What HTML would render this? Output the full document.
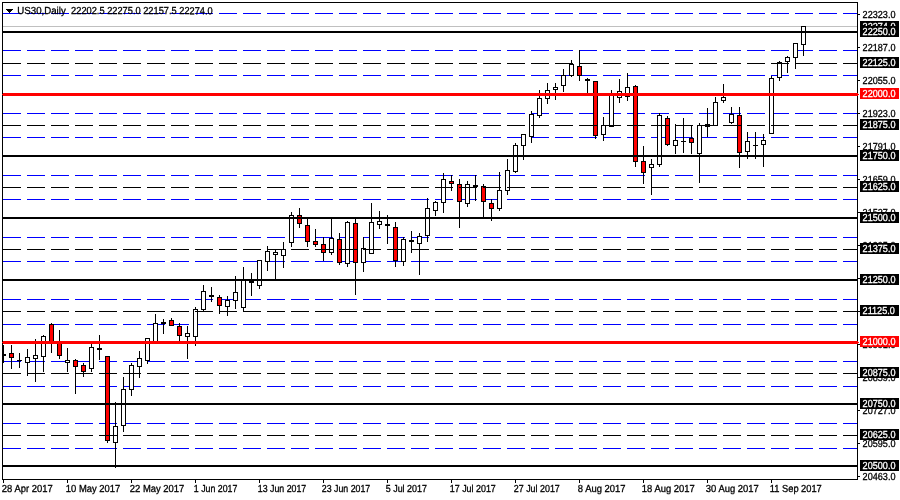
<!DOCTYPE html><html><head><meta charset="utf-8"><title>US30 Daily</title>
<style>html,body{margin:0;padding:0;background:#fff}svg{display:block}text{stroke:#000;stroke-width:0.3px;font-family:"Liberation Sans",Arial,sans-serif;font-size:10.2px}text.w{fill:#fff;stroke:#fff}</style></head><body>
<svg width="900" height="500" viewBox="0 0 900 500">
<rect width="900" height="500" fill="#fff"/>
<g shape-rendering="crispEdges">
<path d="M3 13h18M27 13h18M51 13h18M75 13h18M99 13h18M123 13h18M147 13h18M171 13h18M195 13h18M219 13h18M243 13h18M267 13h18M291 13h18M315 13h18M339 13h18M363 13h18M387 13h18M411 13h18M435 13h18M459 13h18M483 13h18M507 13h18M531 13h18M555 13h18M579 13h18M603 13h18M627 13h18M651 13h18M675 13h18M699 13h18M723 13h18M747 13h18M771 13h18M795 13h18M819 13h18M843 13h14" stroke="#0000ff" stroke-width="1" fill="none" transform="translate(0,0.5)"/>
<path d="M3 50h18M27 50h18M51 50h18M75 50h18M99 50h18M123 50h18M147 50h18M171 50h18M195 50h18M219 50h18M243 50h18M267 50h18M291 50h18M315 50h18M339 50h18M363 50h18M387 50h18M411 50h18M435 50h18M459 50h18M483 50h18M507 50h18M531 50h18M555 50h18M579 50h18M603 50h18M627 50h18M651 50h18M675 50h18M699 50h18M723 50h18M747 50h18M771 50h18M795 50h18M819 50h18M843 50h14" stroke="#0000ff" stroke-width="1" fill="none" transform="translate(0,0.5)"/>
<path d="M3 75h18M27 75h18M51 75h18M75 75h18M99 75h18M123 75h18M147 75h18M171 75h18M195 75h18M219 75h18M243 75h18M267 75h18M291 75h18M315 75h18M339 75h18M363 75h18M387 75h18M411 75h18M435 75h18M459 75h18M483 75h18M507 75h18M531 75h18M555 75h18M579 75h18M603 75h18M627 75h18M651 75h18M675 75h18M699 75h18M723 75h18M747 75h18M771 75h18M795 75h18M819 75h18M843 75h14" stroke="#0000ff" stroke-width="1" fill="none" transform="translate(0,0.5)"/>
<path d="M3 113h18M27 113h18M51 113h18M75 113h18M99 113h18M123 113h18M147 113h18M171 113h18M195 113h18M219 113h18M243 113h18M267 113h18M291 113h18M315 113h18M339 113h18M363 113h18M387 113h18M411 113h18M435 113h18M459 113h18M483 113h18M507 113h18M531 113h18M555 113h18M579 113h18M603 113h18M627 113h18M651 113h18M675 113h18M699 113h18M723 113h18M747 113h18M771 113h18M795 113h18M819 113h18M843 113h14" stroke="#0000ff" stroke-width="1" fill="none" transform="translate(0,0.5)"/>
<path d="M3 137h18M27 137h18M51 137h18M75 137h18M99 137h18M123 137h18M147 137h18M171 137h18M195 137h18M219 137h18M243 137h18M267 137h18M291 137h18M315 137h18M339 137h18M363 137h18M387 137h18M411 137h18M435 137h18M459 137h18M483 137h18M507 137h18M531 137h18M555 137h18M579 137h18M603 137h18M627 137h18M651 137h18M675 137h18M699 137h18M723 137h18M747 137h18M771 137h18M795 137h18M819 137h18M843 137h14" stroke="#0000ff" stroke-width="1" fill="none" transform="translate(0,0.5)"/>
<path d="M3 175h18M27 175h18M51 175h18M75 175h18M99 175h18M123 175h18M147 175h18M171 175h18M195 175h18M219 175h18M243 175h18M267 175h18M291 175h18M315 175h18M339 175h18M363 175h18M387 175h18M411 175h18M435 175h18M459 175h18M483 175h18M507 175h18M531 175h18M555 175h18M579 175h18M603 175h18M627 175h18M651 175h18M675 175h18M699 175h18M723 175h18M747 175h18M771 175h18M795 175h18M819 175h18M843 175h14" stroke="#0000ff" stroke-width="1" fill="none" transform="translate(0,0.5)"/>
<path d="M3 199h18M27 199h18M51 199h18M75 199h18M99 199h18M123 199h18M147 199h18M171 199h18M195 199h18M219 199h18M243 199h18M267 199h18M291 199h18M315 199h18M339 199h18M363 199h18M387 199h18M411 199h18M435 199h18M459 199h18M483 199h18M507 199h18M531 199h18M555 199h18M579 199h18M603 199h18M627 199h18M651 199h18M675 199h18M699 199h18M723 199h18M747 199h18M771 199h18M795 199h18M819 199h18M843 199h14" stroke="#0000ff" stroke-width="1" fill="none" transform="translate(0,0.5)"/>
<path d="M3 237h18M27 237h18M51 237h18M75 237h18M99 237h18M123 237h18M147 237h18M171 237h18M195 237h18M219 237h18M243 237h18M267 237h18M291 237h18M315 237h18M339 237h18M363 237h18M387 237h18M411 237h18M435 237h18M459 237h18M483 237h18M507 237h18M531 237h18M555 237h18M579 237h18M603 237h18M627 237h18M651 237h18M675 237h18M699 237h18M723 237h18M747 237h18M771 237h18M795 237h18M819 237h18M843 237h14" stroke="#0000ff" stroke-width="1" fill="none" transform="translate(0,0.5)"/>
<path d="M3 261h18M27 261h18M51 261h18M75 261h18M99 261h18M123 261h18M147 261h18M171 261h18M195 261h18M219 261h18M243 261h18M267 261h18M291 261h18M315 261h18M339 261h18M363 261h18M387 261h18M411 261h18M435 261h18M459 261h18M483 261h18M507 261h18M531 261h18M555 261h18M579 261h18M603 261h18M627 261h18M651 261h18M675 261h18M699 261h18M723 261h18M747 261h18M771 261h18M795 261h18M819 261h18M843 261h14" stroke="#0000ff" stroke-width="1" fill="none" transform="translate(0,0.5)"/>
<path d="M3 299h18M27 299h18M51 299h18M75 299h18M99 299h18M123 299h18M147 299h18M171 299h18M195 299h18M219 299h18M243 299h18M267 299h18M291 299h18M315 299h18M339 299h18M363 299h18M387 299h18M411 299h18M435 299h18M459 299h18M483 299h18M507 299h18M531 299h18M555 299h18M579 299h18M603 299h18M627 299h18M651 299h18M675 299h18M699 299h18M723 299h18M747 299h18M771 299h18M795 299h18M819 299h18M843 299h14" stroke="#0000ff" stroke-width="1" fill="none" transform="translate(0,0.5)"/>
<path d="M3 324h18M27 324h18M51 324h18M75 324h18M99 324h18M123 324h18M147 324h18M171 324h18M195 324h18M219 324h18M243 324h18M267 324h18M291 324h18M315 324h18M339 324h18M363 324h18M387 324h18M411 324h18M435 324h18M459 324h18M483 324h18M507 324h18M531 324h18M555 324h18M579 324h18M603 324h18M627 324h18M651 324h18M675 324h18M699 324h18M723 324h18M747 324h18M771 324h18M795 324h18M819 324h18M843 324h14" stroke="#0000ff" stroke-width="1" fill="none" transform="translate(0,0.5)"/>
<path d="M3 361h18M27 361h18M51 361h18M75 361h18M99 361h18M123 361h18M147 361h18M171 361h18M195 361h18M219 361h18M243 361h18M267 361h18M291 361h18M315 361h18M339 361h18M363 361h18M387 361h18M411 361h18M435 361h18M459 361h18M483 361h18M507 361h18M531 361h18M555 361h18M579 361h18M603 361h18M627 361h18M651 361h18M675 361h18M699 361h18M723 361h18M747 361h18M771 361h18M795 361h18M819 361h18M843 361h14" stroke="#0000ff" stroke-width="1" fill="none" transform="translate(0,0.5)"/>
<path d="M3 386h18M27 386h18M51 386h18M75 386h18M99 386h18M123 386h18M147 386h18M171 386h18M195 386h18M219 386h18M243 386h18M267 386h18M291 386h18M315 386h18M339 386h18M363 386h18M387 386h18M411 386h18M435 386h18M459 386h18M483 386h18M507 386h18M531 386h18M555 386h18M579 386h18M603 386h18M627 386h18M651 386h18M675 386h18M699 386h18M723 386h18M747 386h18M771 386h18M795 386h18M819 386h18M843 386h14" stroke="#0000ff" stroke-width="1" fill="none" transform="translate(0,0.5)"/>
<path d="M3 423h18M27 423h18M51 423h18M75 423h18M99 423h18M123 423h18M147 423h18M171 423h18M195 423h18M219 423h18M243 423h18M267 423h18M291 423h18M315 423h18M339 423h18M363 423h18M387 423h18M411 423h18M435 423h18M459 423h18M483 423h18M507 423h18M531 423h18M555 423h18M579 423h18M603 423h18M627 423h18M651 423h18M675 423h18M699 423h18M723 423h18M747 423h18M771 423h18M795 423h18M819 423h18M843 423h14" stroke="#0000ff" stroke-width="1" fill="none" transform="translate(0,0.5)"/>
<path d="M3 448h18M27 448h18M51 448h18M75 448h18M99 448h18M123 448h18M147 448h18M171 448h18M195 448h18M219 448h18M243 448h18M267 448h18M291 448h18M315 448h18M339 448h18M363 448h18M387 448h18M411 448h18M435 448h18M459 448h18M483 448h18M507 448h18M531 448h18M555 448h18M579 448h18M603 448h18M627 448h18M651 448h18M675 448h18M699 448h18M723 448h18M747 448h18M771 448h18M795 448h18M819 448h18M843 448h14" stroke="#0000ff" stroke-width="1" fill="none" transform="translate(0,0.5)"/>
<rect x="3" y="26" width="854" height="1" fill="#c0c0c0"/>
<g>
<rect x="3" y="345" width="1" height="18" fill="#000"/>
<rect x="3" y="354" width="3" height="2" fill="#000"/>
<rect x="11" y="345" width="1" height="24" fill="#000"/>
<rect x="9" y="353" width="5" height="5" fill="#000"/>
<rect x="10" y="354" width="3" height="3" fill="#ff0000"/>
<rect x="19" y="353" width="1" height="15" fill="#000"/>
<rect x="17" y="360" width="5" height="1" fill="#000"/>
<rect x="27" y="349" width="1" height="27" fill="#000"/>
<rect x="25" y="357" width="5" height="6" fill="#000"/>
<rect x="26" y="358" width="3" height="4" fill="#fff"/>
<rect x="35" y="339" width="1" height="43" fill="#000"/>
<rect x="33" y="355" width="5" height="4" fill="#000"/>
<rect x="34" y="356" width="3" height="2" fill="#fff"/>
<rect x="43" y="335" width="1" height="37" fill="#000"/>
<rect x="41" y="336" width="5" height="21" fill="#000"/>
<rect x="42" y="337" width="3" height="19" fill="#fff"/>
<rect x="51" y="323" width="1" height="30" fill="#000"/>
<rect x="49" y="324" width="5" height="19" fill="#000"/>
<rect x="50" y="325" width="3" height="17" fill="#ff0000"/>
<rect x="59" y="330" width="1" height="29" fill="#000"/>
<rect x="57" y="342" width="5" height="14" fill="#000"/>
<rect x="58" y="343" width="3" height="12" fill="#ff0000"/>
<rect x="67" y="348" width="1" height="24" fill="#000"/>
<rect x="65" y="360" width="5" height="3" fill="#000"/>
<rect x="66" y="361" width="3" height="1" fill="#fff"/>
<rect x="75" y="359" width="1" height="35" fill="#000"/>
<rect x="73" y="360" width="5" height="7" fill="#000"/>
<rect x="74" y="361" width="3" height="5" fill="#ff0000"/>
<rect x="83" y="363" width="1" height="14" fill="#000"/>
<rect x="81" y="365" width="5" height="7" fill="#000"/>
<rect x="82" y="366" width="3" height="5" fill="#ff0000"/>
<rect x="91" y="344" width="1" height="28" fill="#000"/>
<rect x="89" y="347" width="5" height="22" fill="#000"/>
<rect x="90" y="348" width="3" height="20" fill="#fff"/>
<rect x="99" y="335" width="1" height="25" fill="#000"/>
<rect x="97" y="348" width="5" height="2" fill="#000"/>
<rect x="107" y="356" width="1" height="87" fill="#000"/>
<rect x="105" y="356" width="5" height="85" fill="#000"/>
<rect x="106" y="357" width="3" height="83" fill="#ff0000"/>
<rect x="115" y="402" width="1" height="66" fill="#000"/>
<rect x="113" y="426" width="5" height="17" fill="#000"/>
<rect x="114" y="427" width="3" height="15" fill="#fff"/>
<rect x="123" y="377" width="1" height="55" fill="#000"/>
<rect x="121" y="389" width="5" height="37" fill="#000"/>
<rect x="122" y="390" width="3" height="35" fill="#fff"/>
<rect x="131" y="363" width="1" height="33" fill="#000"/>
<rect x="129" y="365" width="5" height="25" fill="#000"/>
<rect x="130" y="366" width="3" height="23" fill="#fff"/>
<rect x="139" y="351" width="1" height="27" fill="#000"/>
<rect x="137" y="358" width="5" height="9" fill="#000"/>
<rect x="138" y="359" width="3" height="7" fill="#fff"/>
<rect x="147" y="338" width="1" height="26" fill="#000"/>
<rect x="145" y="338" width="5" height="23" fill="#000"/>
<rect x="146" y="339" width="3" height="21" fill="#fff"/>
<rect x="155" y="314" width="1" height="29" fill="#000"/>
<rect x="153" y="323" width="5" height="20" fill="#000"/>
<rect x="154" y="324" width="3" height="18" fill="#fff"/>
<rect x="163" y="319" width="1" height="15" fill="#000"/>
<rect x="161" y="322" width="5" height="2" fill="#000"/>
<rect x="171" y="318" width="1" height="8" fill="#000"/>
<rect x="169" y="320" width="5" height="6" fill="#000"/>
<rect x="170" y="321" width="3" height="4" fill="#ff0000"/>
<rect x="179" y="323" width="1" height="20" fill="#000"/>
<rect x="177" y="326" width="5" height="10" fill="#000"/>
<rect x="178" y="327" width="3" height="8" fill="#ff0000"/>
<rect x="187" y="326" width="1" height="33" fill="#000"/>
<rect x="185" y="333" width="5" height="4" fill="#000"/>
<rect x="186" y="334" width="3" height="2" fill="#fff"/>
<rect x="195" y="307" width="1" height="39" fill="#000"/>
<rect x="193" y="309" width="5" height="28" fill="#000"/>
<rect x="194" y="310" width="3" height="26" fill="#fff"/>
<rect x="203" y="285" width="1" height="26" fill="#000"/>
<rect x="201" y="291" width="5" height="19" fill="#000"/>
<rect x="202" y="292" width="3" height="17" fill="#fff"/>
<rect x="211" y="287" width="1" height="15" fill="#000"/>
<rect x="209" y="295" width="5" height="2" fill="#000"/>
<rect x="219" y="295" width="1" height="19" fill="#000"/>
<rect x="217" y="297" width="5" height="9" fill="#000"/>
<rect x="218" y="298" width="3" height="7" fill="#ff0000"/>
<rect x="227" y="296" width="1" height="20" fill="#000"/>
<rect x="225" y="300" width="5" height="7" fill="#000"/>
<rect x="226" y="301" width="3" height="5" fill="#fff"/>
<rect x="235" y="276" width="1" height="33" fill="#000"/>
<rect x="233" y="292" width="5" height="9" fill="#000"/>
<rect x="234" y="293" width="3" height="7" fill="#fff"/>
<rect x="243" y="267" width="1" height="44" fill="#000"/>
<rect x="241" y="280" width="5" height="28" fill="#000"/>
<rect x="242" y="281" width="3" height="26" fill="#fff"/>
<rect x="251" y="273" width="1" height="23" fill="#000"/>
<rect x="249" y="281" width="5" height="2" fill="#000"/>
<rect x="259" y="260" width="1" height="29" fill="#000"/>
<rect x="257" y="260" width="5" height="26" fill="#000"/>
<rect x="258" y="261" width="3" height="24" fill="#fff"/>
<rect x="267" y="246" width="1" height="25" fill="#000"/>
<rect x="265" y="251" width="5" height="11" fill="#000"/>
<rect x="266" y="252" width="3" height="9" fill="#fff"/>
<rect x="275" y="249" width="1" height="30" fill="#000"/>
<rect x="273" y="252" width="5" height="3" fill="#000"/>
<rect x="274" y="253" width="3" height="1" fill="#fff"/>
<rect x="283" y="242" width="1" height="26" fill="#000"/>
<rect x="281" y="249" width="5" height="7" fill="#000"/>
<rect x="282" y="250" width="3" height="5" fill="#fff"/>
<rect x="291" y="212" width="1" height="35" fill="#000"/>
<rect x="289" y="215" width="5" height="28" fill="#000"/>
<rect x="290" y="216" width="3" height="26" fill="#fff"/>
<rect x="299" y="208" width="1" height="20" fill="#000"/>
<rect x="297" y="215" width="5" height="9" fill="#000"/>
<rect x="298" y="216" width="3" height="7" fill="#ff0000"/>
<rect x="307" y="219" width="1" height="28" fill="#000"/>
<rect x="305" y="225" width="5" height="17" fill="#000"/>
<rect x="306" y="226" width="3" height="15" fill="#ff0000"/>
<rect x="315" y="229" width="1" height="18" fill="#000"/>
<rect x="313" y="241" width="5" height="4" fill="#000"/>
<rect x="314" y="242" width="3" height="2" fill="#ff0000"/>
<rect x="323" y="237" width="1" height="24" fill="#000"/>
<rect x="321" y="244" width="5" height="9" fill="#000"/>
<rect x="322" y="245" width="3" height="7" fill="#ff0000"/>
<rect x="331" y="219" width="1" height="36" fill="#000"/>
<rect x="329" y="238" width="5" height="15" fill="#000"/>
<rect x="330" y="239" width="3" height="13" fill="#fff"/>
<rect x="339" y="233" width="1" height="32" fill="#000"/>
<rect x="337" y="239" width="5" height="24" fill="#000"/>
<rect x="338" y="240" width="3" height="22" fill="#ff0000"/>
<rect x="347" y="221" width="1" height="46" fill="#000"/>
<rect x="345" y="222" width="5" height="42" fill="#000"/>
<rect x="346" y="223" width="3" height="40" fill="#fff"/>
<rect x="355" y="219" width="1" height="76" fill="#000"/>
<rect x="353" y="223" width="5" height="40" fill="#000"/>
<rect x="354" y="224" width="3" height="38" fill="#ff0000"/>
<rect x="363" y="237" width="1" height="35" fill="#000"/>
<rect x="361" y="248" width="5" height="15" fill="#000"/>
<rect x="362" y="249" width="3" height="13" fill="#fff"/>
<rect x="371" y="203" width="1" height="51" fill="#000"/>
<rect x="369" y="222" width="5" height="32" fill="#000"/>
<rect x="370" y="223" width="3" height="30" fill="#fff"/>
<rect x="379" y="211" width="1" height="18" fill="#000"/>
<rect x="377" y="221" width="5" height="4" fill="#000"/>
<rect x="378" y="222" width="3" height="2" fill="#fff"/>
<rect x="387" y="215" width="1" height="29" fill="#000"/>
<rect x="385" y="224" width="5" height="2" fill="#000"/>
<rect x="395" y="222" width="1" height="45" fill="#000"/>
<rect x="393" y="227" width="5" height="34" fill="#000"/>
<rect x="394" y="228" width="3" height="32" fill="#ff0000"/>
<rect x="403" y="237" width="1" height="29" fill="#000"/>
<rect x="401" y="239" width="5" height="23" fill="#000"/>
<rect x="402" y="240" width="3" height="21" fill="#fff"/>
<rect x="411" y="231" width="1" height="22" fill="#000"/>
<rect x="409" y="240" width="5" height="2" fill="#000"/>
<rect x="419" y="233" width="1" height="42" fill="#000"/>
<rect x="417" y="236" width="5" height="8" fill="#000"/>
<rect x="418" y="237" width="3" height="6" fill="#fff"/>
<rect x="427" y="198" width="1" height="44" fill="#000"/>
<rect x="425" y="208" width="5" height="28" fill="#000"/>
<rect x="426" y="209" width="3" height="26" fill="#fff"/>
<rect x="435" y="201" width="1" height="15" fill="#000"/>
<rect x="433" y="202" width="5" height="9" fill="#000"/>
<rect x="434" y="203" width="3" height="7" fill="#fff"/>
<rect x="443" y="173" width="1" height="40" fill="#000"/>
<rect x="441" y="179" width="5" height="24" fill="#000"/>
<rect x="442" y="180" width="3" height="22" fill="#fff"/>
<rect x="451" y="175" width="1" height="16" fill="#000"/>
<rect x="449" y="181" width="5" height="3" fill="#000"/>
<rect x="450" y="182" width="3" height="1" fill="#ff0000"/>
<rect x="459" y="179" width="1" height="49" fill="#000"/>
<rect x="457" y="184" width="5" height="18" fill="#000"/>
<rect x="458" y="185" width="3" height="16" fill="#ff0000"/>
<rect x="467" y="181" width="1" height="26" fill="#000"/>
<rect x="465" y="184" width="5" height="20" fill="#000"/>
<rect x="466" y="185" width="3" height="18" fill="#fff"/>
<rect x="475" y="175" width="1" height="26" fill="#000"/>
<rect x="473" y="185" width="5" height="2" fill="#000"/>
<rect x="483" y="184" width="1" height="33" fill="#000"/>
<rect x="481" y="186" width="5" height="16" fill="#000"/>
<rect x="482" y="187" width="3" height="14" fill="#ff0000"/>
<rect x="491" y="199" width="1" height="22" fill="#000"/>
<rect x="489" y="203" width="5" height="6" fill="#000"/>
<rect x="490" y="204" width="3" height="4" fill="#ff0000"/>
<rect x="499" y="172" width="1" height="39" fill="#000"/>
<rect x="497" y="190" width="5" height="19" fill="#000"/>
<rect x="498" y="191" width="3" height="17" fill="#fff"/>
<rect x="507" y="159" width="1" height="36" fill="#000"/>
<rect x="505" y="170" width="5" height="21" fill="#000"/>
<rect x="506" y="171" width="3" height="19" fill="#fff"/>
<rect x="515" y="143" width="1" height="30" fill="#000"/>
<rect x="513" y="145" width="5" height="27" fill="#000"/>
<rect x="514" y="146" width="3" height="25" fill="#fff"/>
<rect x="523" y="134" width="1" height="26" fill="#000"/>
<rect x="521" y="134" width="5" height="12" fill="#000"/>
<rect x="522" y="135" width="3" height="10" fill="#fff"/>
<rect x="531" y="111" width="1" height="32" fill="#000"/>
<rect x="529" y="114" width="5" height="23" fill="#000"/>
<rect x="530" y="115" width="3" height="21" fill="#fff"/>
<rect x="539" y="90" width="1" height="28" fill="#000"/>
<rect x="537" y="98" width="5" height="18" fill="#000"/>
<rect x="538" y="99" width="3" height="16" fill="#fff"/>
<rect x="547" y="83" width="1" height="21" fill="#000"/>
<rect x="545" y="90" width="5" height="9" fill="#000"/>
<rect x="546" y="91" width="3" height="7" fill="#fff"/>
<rect x="555" y="83" width="1" height="17" fill="#000"/>
<rect x="553" y="87" width="5" height="3" fill="#000"/>
<rect x="554" y="88" width="3" height="1" fill="#fff"/>
<rect x="563" y="69" width="1" height="23" fill="#000"/>
<rect x="561" y="75" width="5" height="11" fill="#000"/>
<rect x="562" y="76" width="3" height="9" fill="#fff"/>
<rect x="571" y="60" width="1" height="17" fill="#000"/>
<rect x="569" y="64" width="5" height="12" fill="#000"/>
<rect x="570" y="65" width="3" height="10" fill="#fff"/>
<rect x="579" y="50" width="1" height="31" fill="#000"/>
<rect x="577" y="66" width="5" height="10" fill="#000"/>
<rect x="578" y="67" width="3" height="8" fill="#ff0000"/>
<rect x="587" y="78" width="1" height="16" fill="#000"/>
<rect x="585" y="79" width="5" height="2" fill="#000"/>
<rect x="595" y="81" width="1" height="58" fill="#000"/>
<rect x="593" y="81" width="5" height="55" fill="#000"/>
<rect x="594" y="82" width="3" height="53" fill="#ff0000"/>
<rect x="603" y="117" width="1" height="24" fill="#000"/>
<rect x="601" y="125" width="5" height="10" fill="#000"/>
<rect x="602" y="126" width="3" height="8" fill="#fff"/>
<rect x="611" y="90" width="1" height="37" fill="#000"/>
<rect x="609" y="94" width="5" height="33" fill="#000"/>
<rect x="610" y="95" width="3" height="31" fill="#fff"/>
<rect x="619" y="79" width="1" height="24" fill="#000"/>
<rect x="617" y="91" width="5" height="7" fill="#000"/>
<rect x="618" y="92" width="3" height="5" fill="#fff"/>
<rect x="627" y="73" width="1" height="28" fill="#000"/>
<rect x="625" y="87" width="5" height="10" fill="#000"/>
<rect x="626" y="88" width="3" height="8" fill="#fff"/>
<rect x="635" y="85" width="1" height="82" fill="#000"/>
<rect x="633" y="86" width="5" height="76" fill="#000"/>
<rect x="634" y="87" width="3" height="74" fill="#ff0000"/>
<rect x="643" y="146" width="1" height="38" fill="#000"/>
<rect x="641" y="161" width="5" height="12" fill="#000"/>
<rect x="642" y="162" width="3" height="10" fill="#ff0000"/>
<rect x="651" y="159" width="1" height="36" fill="#000"/>
<rect x="649" y="164" width="5" height="4" fill="#000"/>
<rect x="650" y="165" width="3" height="2" fill="#fff"/>
<rect x="659" y="113" width="1" height="54" fill="#000"/>
<rect x="657" y="115" width="5" height="50" fill="#000"/>
<rect x="658" y="116" width="3" height="48" fill="#fff"/>
<rect x="667" y="116" width="1" height="30" fill="#000"/>
<rect x="665" y="118" width="5" height="27" fill="#000"/>
<rect x="666" y="119" width="3" height="25" fill="#ff0000"/>
<rect x="675" y="124" width="1" height="30" fill="#000"/>
<rect x="673" y="140" width="5" height="6" fill="#000"/>
<rect x="674" y="141" width="3" height="4" fill="#fff"/>
<rect x="683" y="118" width="1" height="35" fill="#000"/>
<rect x="681" y="141" width="5" height="1" fill="#000"/>
<rect x="691" y="125" width="1" height="29" fill="#000"/>
<rect x="689" y="138" width="5" height="5" fill="#000"/>
<rect x="690" y="139" width="3" height="3" fill="#ff0000"/>
<rect x="699" y="123" width="1" height="60" fill="#000"/>
<rect x="697" y="125" width="5" height="29" fill="#000"/>
<rect x="698" y="126" width="3" height="27" fill="#fff"/>
<rect x="707" y="108" width="1" height="29" fill="#000"/>
<rect x="705" y="124" width="5" height="3" fill="#000"/>
<rect x="715" y="97" width="1" height="29" fill="#000"/>
<rect x="713" y="102" width="5" height="24" fill="#000"/>
<rect x="714" y="103" width="3" height="22" fill="#fff"/>
<rect x="723" y="84" width="1" height="19" fill="#000"/>
<rect x="721" y="97" width="5" height="4" fill="#000"/>
<rect x="722" y="98" width="3" height="2" fill="#fff"/>
<rect x="731" y="107" width="1" height="17" fill="#000"/>
<rect x="729" y="114" width="5" height="9" fill="#000"/>
<rect x="730" y="115" width="3" height="7" fill="#fff"/>
<rect x="739" y="107" width="1" height="61" fill="#000"/>
<rect x="737" y="115" width="5" height="38" fill="#000"/>
<rect x="738" y="116" width="3" height="36" fill="#ff0000"/>
<rect x="747" y="132" width="1" height="27" fill="#000"/>
<rect x="745" y="141" width="5" height="11" fill="#000"/>
<rect x="746" y="142" width="3" height="9" fill="#fff"/>
<rect x="755" y="132" width="1" height="27" fill="#000"/>
<rect x="753" y="145" width="5" height="1" fill="#000"/>
<rect x="763" y="134" width="1" height="33" fill="#000"/>
<rect x="761" y="140" width="5" height="5" fill="#000"/>
<rect x="762" y="141" width="3" height="3" fill="#fff"/>
<rect x="771" y="76" width="1" height="58" fill="#000"/>
<rect x="769" y="78" width="5" height="56" fill="#000"/>
<rect x="770" y="79" width="3" height="54" fill="#fff"/>
<rect x="779" y="61" width="1" height="20" fill="#000"/>
<rect x="777" y="62" width="5" height="16" fill="#000"/>
<rect x="778" y="63" width="3" height="14" fill="#fff"/>
<rect x="787" y="56" width="1" height="17" fill="#000"/>
<rect x="785" y="57" width="5" height="5" fill="#000"/>
<rect x="786" y="58" width="3" height="3" fill="#fff"/>
<rect x="795" y="43" width="1" height="26" fill="#000"/>
<rect x="793" y="43" width="5" height="15" fill="#000"/>
<rect x="794" y="44" width="3" height="13" fill="#fff"/>
<rect x="803" y="26" width="1" height="30" fill="#000"/>
<rect x="801" y="26" width="5" height="19" fill="#000"/>
<rect x="802" y="27" width="3" height="17" fill="#fff"/>
</g>
<path d="M3 63h18M27 63h18M51 63h18M75 63h18M99 63h18M123 63h18M147 63h18M171 63h18M195 63h18M219 63h18M243 63h18M267 63h18M291 63h18M315 63h18M339 63h18M363 63h18M387 63h18M411 63h18M435 63h18M459 63h18M483 63h18M507 63h18M531 63h18M555 63h18M579 63h18M603 63h18M627 63h18M651 63h18M675 63h18M699 63h18M723 63h18M747 63h18M771 63h18M795 63h18M819 63h18M843 63h14" stroke="#000" stroke-width="1" fill="none" transform="translate(0,0.5)"/>
<path d="M3 125h18M27 125h18M51 125h18M75 125h18M99 125h18M123 125h18M147 125h18M171 125h18M195 125h18M219 125h18M243 125h18M267 125h18M291 125h18M315 125h18M339 125h18M363 125h18M387 125h18M411 125h18M435 125h18M459 125h18M483 125h18M507 125h18M531 125h18M555 125h18M579 125h18M603 125h18M627 125h18M651 125h18M675 125h18M699 125h18M723 125h18M747 125h18M771 125h18M795 125h18M819 125h18M843 125h14" stroke="#000" stroke-width="1" fill="none" transform="translate(0,0.5)"/>
<path d="M3 187h18M27 187h18M51 187h18M75 187h18M99 187h18M123 187h18M147 187h18M171 187h18M195 187h18M219 187h18M243 187h18M267 187h18M291 187h18M315 187h18M339 187h18M363 187h18M387 187h18M411 187h18M435 187h18M459 187h18M483 187h18M507 187h18M531 187h18M555 187h18M579 187h18M603 187h18M627 187h18M651 187h18M675 187h18M699 187h18M723 187h18M747 187h18M771 187h18M795 187h18M819 187h18M843 187h14" stroke="#000" stroke-width="1" fill="none" transform="translate(0,0.5)"/>
<path d="M3 249h18M27 249h18M51 249h18M75 249h18M99 249h18M123 249h18M147 249h18M171 249h18M195 249h18M219 249h18M243 249h18M267 249h18M291 249h18M315 249h18M339 249h18M363 249h18M387 249h18M411 249h18M435 249h18M459 249h18M483 249h18M507 249h18M531 249h18M555 249h18M579 249h18M603 249h18M627 249h18M651 249h18M675 249h18M699 249h18M723 249h18M747 249h18M771 249h18M795 249h18M819 249h18M843 249h14" stroke="#000" stroke-width="1" fill="none" transform="translate(0,0.5)"/>
<path d="M3 311h18M27 311h18M51 311h18M75 311h18M99 311h18M123 311h18M147 311h18M171 311h18M195 311h18M219 311h18M243 311h18M267 311h18M291 311h18M315 311h18M339 311h18M363 311h18M387 311h18M411 311h18M435 311h18M459 311h18M483 311h18M507 311h18M531 311h18M555 311h18M579 311h18M603 311h18M627 311h18M651 311h18M675 311h18M699 311h18M723 311h18M747 311h18M771 311h18M795 311h18M819 311h18M843 311h14" stroke="#000" stroke-width="1" fill="none" transform="translate(0,0.5)"/>
<path d="M3 373h18M27 373h18M51 373h18M75 373h18M99 373h18M123 373h18M147 373h18M171 373h18M195 373h18M219 373h18M243 373h18M267 373h18M291 373h18M315 373h18M339 373h18M363 373h18M387 373h18M411 373h18M435 373h18M459 373h18M483 373h18M507 373h18M531 373h18M555 373h18M579 373h18M603 373h18M627 373h18M651 373h18M675 373h18M699 373h18M723 373h18M747 373h18M771 373h18M795 373h18M819 373h18M843 373h14" stroke="#000" stroke-width="1" fill="none" transform="translate(0,0.5)"/>
<path d="M3 435h18M27 435h18M51 435h18M75 435h18M99 435h18M123 435h18M147 435h18M171 435h18M195 435h18M219 435h18M243 435h18M267 435h18M291 435h18M315 435h18M339 435h18M363 435h18M387 435h18M411 435h18M435 435h18M459 435h18M483 435h18M507 435h18M531 435h18M555 435h18M579 435h18M603 435h18M627 435h18M651 435h18M675 435h18M699 435h18M723 435h18M747 435h18M771 435h18M795 435h18M819 435h18M843 435h14" stroke="#000" stroke-width="1" fill="none" transform="translate(0,0.5)"/>
<rect x="3" y="31" width="854" height="2" fill="#000"/>
<rect x="3" y="155" width="854" height="2" fill="#000"/>
<rect x="3" y="217" width="854" height="2" fill="#000"/>
<rect x="3" y="279" width="854" height="2" fill="#000"/>
<rect x="3" y="403" width="854" height="2" fill="#000"/>
<rect x="3" y="465" width="854" height="2" fill="#000"/>
<path d="M2.5 2.5H857.5V479.5H2.5Z" fill="none" stroke="#000" stroke-width="1"/>
<rect x="3" y="93" width="855" height="3" fill="#ff0000"/>
<rect x="2" y="94" width="857" height="1" fill="#ff0000"/>
<rect x="3" y="341" width="855" height="3" fill="#ff0000"/>
<rect x="2" y="342" width="857" height="1" fill="#ff0000"/>
<rect x="3" y="480" width="1" height="3" fill="#000"/>
<rect x="67" y="480" width="1" height="3" fill="#000"/>
<rect x="131" y="480" width="1" height="3" fill="#000"/>
<rect x="195" y="480" width="1" height="3" fill="#000"/>
<rect x="259" y="480" width="1" height="3" fill="#000"/>
<rect x="323" y="480" width="1" height="3" fill="#000"/>
<rect x="387" y="480" width="1" height="3" fill="#000"/>
<rect x="451" y="480" width="1" height="3" fill="#000"/>
<rect x="515" y="480" width="1" height="3" fill="#000"/>
<rect x="579" y="480" width="1" height="3" fill="#000"/>
<rect x="643" y="480" width="1" height="3" fill="#000"/>
<rect x="707" y="480" width="1" height="3" fill="#000"/>
<rect x="771" y="480" width="1" height="3" fill="#000"/>
<rect x="858" y="14" width="2" height="1" fill="#000"/>
<rect x="858" y="47" width="2" height="1" fill="#000"/>
<rect x="858" y="80" width="2" height="1" fill="#000"/>
<rect x="858" y="113" width="2" height="1" fill="#000"/>
<rect x="858" y="146" width="2" height="1" fill="#000"/>
<rect x="858" y="179" width="2" height="1" fill="#000"/>
<rect x="858" y="212" width="2" height="1" fill="#000"/>
<rect x="858" y="245" width="2" height="1" fill="#000"/>
<rect x="858" y="278" width="2" height="1" fill="#000"/>
<rect x="858" y="311" width="2" height="1" fill="#000"/>
<rect x="858" y="344" width="2" height="1" fill="#000"/>
<rect x="858" y="377" width="2" height="1" fill="#000"/>
<rect x="858" y="410" width="2" height="1" fill="#000"/>
<rect x="858" y="443" width="2" height="1" fill="#000"/>
<rect x="858" y="476" width="2" height="1" fill="#000"/>
</g>
<path d="M6 9h7v1h-1v1h-1v1h-1v1h-1v-1h-1v-1h-1v-1h-1z" fill="#000" shape-rendering="crispEdges"/>
<text transform="matrix(0.95,0.001,0,1,17.3,14)">US30,Daily</text>
<text transform="matrix(0.909,0.001,0,1,71.1,14)">22202.5 22275.0 22157.5 22274.0</text>
<text transform="matrix(0.925,0.001,0,1,1.8,492)">28 Apr 2017</text>
<text transform="matrix(0.925,0.001,0,1,65.8,492)">10 May 2017</text>
<text transform="matrix(0.925,0.001,0,1,129.8,492)">22 May 2017</text>
<text transform="matrix(0.8649,0.001,0,1,193.8,492)">1 Jun 2017</text>
<text transform="matrix(0.8649,0.001,0,1,257.8,492)">13 Jun 2017</text>
<text transform="matrix(0.8649,0.001,0,1,321.8,492)">23 Jun 2017</text>
<text transform="matrix(0.8732,0.001,0,1,385.8,492)">5 Jul 2017</text>
<text transform="matrix(0.8732,0.001,0,1,449.8,492)">17 Jul 2017</text>
<text transform="matrix(0.8732,0.001,0,1,513.8,492)">27 Jul 2017</text>
<text transform="matrix(0.925,0.001,0,1,577.8,492)">8 Aug 2017</text>
<text transform="matrix(0.925,0.001,0,1,641.8,492)">18 Aug 2017</text>
<text transform="matrix(0.925,0.001,0,1,705.8,492)">30 Aug 2017</text>
<text transform="matrix(0.9111,0.001,0,1,769.8,492)">11 Sep 2017</text>
<text transform="matrix(0.8925,0.001,0,1,862.6,18)">22323.0</text>
<text transform="matrix(0.8925,0.001,0,1,862.6,51)">22187.0</text>
<text transform="matrix(0.8925,0.001,0,1,862.6,84)">22055.0</text>
<text transform="matrix(0.8925,0.001,0,1,862.6,117)">21923.0</text>
<text transform="matrix(0.8925,0.001,0,1,862.6,150)">21791.0</text>
<text transform="matrix(0.8925,0.001,0,1,862.6,183)">21659.0</text>
<text transform="matrix(0.8925,0.001,0,1,862.6,216)">21527.0</text>
<text transform="matrix(0.8925,0.001,0,1,862.6,249)">21395.0</text>
<text transform="matrix(0.8925,0.001,0,1,862.6,282)">21263.0</text>
<text transform="matrix(0.8925,0.001,0,1,862.6,315)">21131.0</text>
<text transform="matrix(0.8925,0.001,0,1,862.6,348)">20991.0</text>
<text transform="matrix(0.8925,0.001,0,1,862.6,381)">20859.0</text>
<text transform="matrix(0.8925,0.001,0,1,862.6,414)">20727.0</text>
<text transform="matrix(0.8925,0.001,0,1,862.6,447)">20595.0</text>
<text transform="matrix(0.8925,0.001,0,1,862.6,480)">20463.0</text>
<rect x="860" y="21" width="39" height="11" fill="#000" shape-rendering="crispEdges"/>
<text transform="matrix(0.8925,0.001,0,1,862.6,30)" class="w">22274.0</text>
<rect x="860" y="26" width="39" height="11" fill="#000" shape-rendering="crispEdges"/>
<text transform="matrix(0.8925,0.001,0,1,862.6,35)" class="w">22250.0</text>
<rect x="860" y="57" width="39" height="11" fill="#000" shape-rendering="crispEdges"/>
<text transform="matrix(0.8925,0.001,0,1,862.6,66)" class="w">22125.0</text>
<rect x="860" y="88" width="39" height="11" fill="#ff0000" shape-rendering="crispEdges"/>
<text transform="matrix(0.8925,0.001,0,1,862.6,97)" class="w">22000.0</text>
<rect x="860" y="119" width="39" height="11" fill="#000" shape-rendering="crispEdges"/>
<text transform="matrix(0.8925,0.001,0,1,862.6,128)" class="w">21875.0</text>
<rect x="860" y="150" width="39" height="11" fill="#000" shape-rendering="crispEdges"/>
<text transform="matrix(0.8925,0.001,0,1,862.6,159)" class="w">21750.0</text>
<rect x="860" y="181" width="39" height="11" fill="#000" shape-rendering="crispEdges"/>
<text transform="matrix(0.8925,0.001,0,1,862.6,190)" class="w">21625.0</text>
<rect x="860" y="212" width="39" height="11" fill="#000" shape-rendering="crispEdges"/>
<text transform="matrix(0.8925,0.001,0,1,862.6,221)" class="w">21500.0</text>
<rect x="860" y="243" width="39" height="11" fill="#000" shape-rendering="crispEdges"/>
<text transform="matrix(0.8925,0.001,0,1,862.6,252)" class="w">21375.0</text>
<rect x="860" y="274" width="39" height="11" fill="#000" shape-rendering="crispEdges"/>
<text transform="matrix(0.8925,0.001,0,1,862.6,283)" class="w">21250.0</text>
<rect x="860" y="305" width="39" height="11" fill="#000" shape-rendering="crispEdges"/>
<text transform="matrix(0.8925,0.001,0,1,862.6,314)" class="w">21125.0</text>
<rect x="860" y="336" width="39" height="11" fill="#ff0000" shape-rendering="crispEdges"/>
<text transform="matrix(0.8925,0.001,0,1,862.6,345)" class="w">21000.0</text>
<rect x="860" y="367" width="39" height="11" fill="#000" shape-rendering="crispEdges"/>
<text transform="matrix(0.8925,0.001,0,1,862.6,376)" class="w">20875.0</text>
<rect x="860" y="398" width="39" height="11" fill="#000" shape-rendering="crispEdges"/>
<text transform="matrix(0.8925,0.001,0,1,862.6,407)" class="w">20750.0</text>
<rect x="860" y="429" width="39" height="11" fill="#000" shape-rendering="crispEdges"/>
<text transform="matrix(0.8925,0.001,0,1,862.6,438)" class="w">20625.0</text>
<rect x="860" y="460" width="39" height="11" fill="#000" shape-rendering="crispEdges"/>
<text transform="matrix(0.8925,0.001,0,1,862.6,469)" class="w">20500.0</text>
</svg></body></html>
